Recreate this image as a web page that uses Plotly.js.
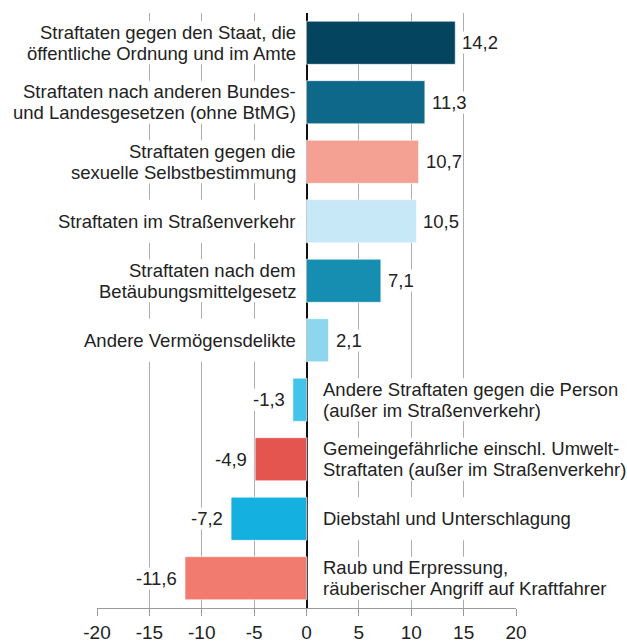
<!DOCTYPE html>
<html>
<head>
<meta charset="utf-8">
<script src="https://cdn.plot.ly/plotly-3.0.1.min.js"></script>
<style>html,body{margin:0;padding:0;background:#fff;}#chart{width:627px;height:644px;}</style>
</head>
<body>
<div id="chart"></div>
<script>
const categories = [
  "Straftaten gegen den Staat, die<br>öffentliche Ordnung und im Amte",
  "Straftaten nach anderen Bundes-<br>und Landesgesetzen (ohne BtMG)",
  "Straftaten gegen die<br>sexuelle Selbstbestimmung",
  "Straftaten im Straßenverkehr",
  "Straftaten nach dem<br>Betäubungsmittelgesetz",
  "Andere Vermögensdelikte",
  "Andere Straftaten gegen die Person<br>(außer im Straßenverkehr)",
  "Gemeingefährliche einschl. Umwelt-<br>Straftaten (außer im Straßenverkehr)",
  "Diebstahl und Unterschlagung",
  "Raub und Erpressung,<br>räuberischer Angriff auf Kraftfahrer"
];
const values = [14.2, 11.3, 10.7, 10.5, 7.1, 2.1, -1.3, -4.9, -7.2, -11.6];
const valueLabels = ["14,2", "11,3", "10,7", "10,5", "7,1", "2,1", "-1,3", "-4,9", "-7,2", "-11,6"];
const barColors = ["#04445f", "#0e6889", "#f4a092", "#c6e8f7", "#168eb2", "#8dd6ee", "#45c4ea", "#e45550", "#14b0e0", "#f27b70"];
const tickVals = [-20, -15, -10, -5, 0, 5, 10, 15, 20];
const tickText = ["-20", "-15", "-10", "-5", "0", "5", "10", "15", "20"];

const FONT = "Liberation Sans, Arial, Helvetica, sans-serif";
const LABEL_SIZE = 18.5;
const LINE_H = 20.7;
const BAR_FRAC = 0.725;

const trace = {
  type: "bar",
  orientation: "h",
  y: categories,
  x: values,
  marker: {color: barColors, line: {color: "rgba(255,255,255,0.6)", width: 1}},
  width: BAR_FRAC,
  hoverinfo: "skip",
  cliponaxis: false
};

const annotations = [];
const shapes = [];
categories.forEach((c, i) => {
  const v = values[i];
  const pos = v >= 0;
  const lines = c.split("<br>");
  lines.forEach((ln, k) => {
    annotations.push({
      x: 0, y: c, xref: "x", yref: "y",
      text: ln, showarrow: false,
      xanchor: pos ? "right" : "left",
      yanchor: "middle",
      xshift: pos ? -9 : 14,
      yshift: -(k - (lines.length - 1) / 2) * LINE_H,
      align: pos ? "right" : "left",
      font: {family: FONT, size: LABEL_SIZE, color: "#222"}
    });
  });
  annotations.push({
    x: v, y: c, xref: "x", yref: "y",
    text: valueLabels[i], showarrow: false,
    xanchor: pos ? "left" : "right",
    xshift: pos ? 6 : -7,
    bgcolor: "#fff", borderpad: 0,
    font: {family: FONT, size: LABEL_SIZE, color: "#222"}
  });
  shapes.push({
    type: "rect", layer: "between", xref: "x", yref: "y",
    x0: pos ? -21 : 0.12, x1: pos ? -0.12 : 21,
    y0: i - BAR_FRAC / 2, y1: i + BAR_FRAC / 2,
    fillcolor: "#fff", line: {width: 0}
  });
});

const layout = {
  width: 627, height: 644,
  margin: {l: 97, r: 111, t: 13, b: 36},
  paper_bgcolor: "#fff", plot_bgcolor: "#fff",
  showlegend: false,
  font: {family: FONT, color: "#222"},
  xaxis: {
    range: [-20, 20],
    tickvals: tickVals, ticktext: tickText,
    showgrid: true, gridcolor: "#adadad", gridwidth: 1,
    zeroline: true, zerolinecolor: "#111", zerolinewidth: 2,
    showline: true, linecolor: "#9a9a9a", linewidth: 1,
    ticks: "outside", ticklen: 7, tickcolor: "#9a9a9a",
    ticklabelstandoff: 0,
    tickfont: {family: FONT, size: 19, color: "#222"},
    fixedrange: true
  },
  yaxis: {
    type: "category",
    autorange: "reversed",
    showticklabels: false, showgrid: false, zeroline: false, ticks: "",
    fixedrange: true
  },
  annotations: annotations,
  shapes: shapes
};

Plotly.newPlot("chart", [trace], layout, {displayModeBar: false, staticPlot: true});
</script>
</body>
</html>
